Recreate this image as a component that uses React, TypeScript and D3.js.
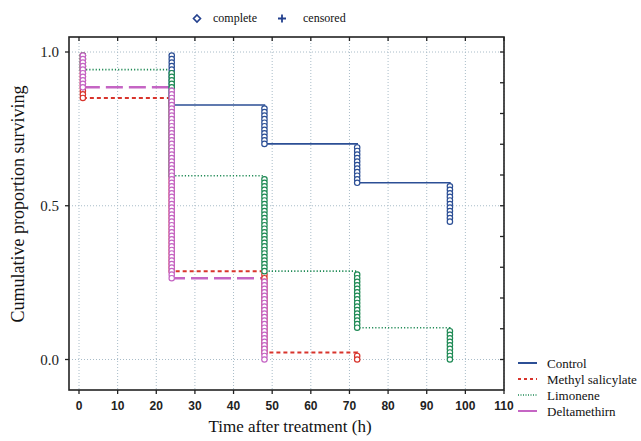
import * as d3 from 'd3';

const WIDTH = 641;
const HEIGHT = 441;
const FRAME = { left: 69, right: 504, top: 37, bottom: 390 };

// event times (h) and sample size per group
export const times = [1, 24, 48, 72, 96];
export const sampleSize = 87;

// number of deaths at each event time
export const controlDeaths = [0, 15, 11, 11, 11];
export const methylDeaths = [13, 49, 23, 2, 0];
export const limoneneDeaths = [5, 30, 27, 16, 9];
export const deltaDeaths = [10, 54, 23, 0, 0];

export const seriesNames = ['Control', 'Methyl salicylate', 'Limonene', 'Deltamethirn'];

export const xTicks = [0, 10, 20, 30, 40, 50, 60, 70, 80, 90, 100, 110];
export const yTicks = [0, 0.5, 1];
export const yMinorTicks = [0, 0.1, 0.2, 0.3, 0.4, 0.5, 0.6, 0.7, 0.8, 0.9, 1];

const styles = [
    { color: '#2c4f95', dash: null, width: 1.6 },
    { color: '#d8342c', dash: '4,3', width: 2 },
    { color: '#1f8a55', dash: '1.2,2', width: 1.6 },
    { color: '#c565c4', dash: '17,6', width: 2.5 },
];

const serif = '"Liberation Serif", "Times New Roman", serif';
const sans = '"Liberation Sans", Arial, sans-serif';

// Kaplan-Meier steps: one circle per death, one step per event time
const buildSeries = (deaths) => {
    let alive = sampleSize;
    const steps = [];
    const circles = [];
    deaths.forEach((d, i) => {
        if (d === 0) return;
        for (let k = 0; k < d; k++) {
            alive -= 1;
            circles.push({ t: times[i], s: alive / sampleSize });
        }
        steps.push({ t: times[i], s: alive / sampleSize });
    });
    return { steps, circles };
};

const App = () => {
    const xScale = d3.scaleLinear().domain([0, 110]).range([79, FRAME.right]);
    const yScale = d3.scaleLinear().domain([0, 1]).range([359.5, 52]);

    const lineBuilder = d3
        .line()
        .x((d) => xScale(d.t))
        .y((d) => yScale(d.s))
        .curve(d3.curveStepAfter);

    const allSeries = [controlDeaths, methylDeaths, limoneneDeaths, deltaDeaths].map(buildSeries);

    return (
        <svg
            width={WIDTH}
            height={HEIGHT}
            style={{ position: 'absolute', left: 0, top: 0, background: '#fff' }}
        >
            {/* grid */}
            {xTicks.map((t) => (
                <line
                    key={'gx' + t}
                    x1={xScale(t)}
                    x2={xScale(t)}
                    y1={FRAME.top}
                    y2={FRAME.bottom}
                    stroke="#a9bcc8"
                    strokeWidth={1}
                    strokeDasharray="1,2"
                />
            ))}
            {yTicks.map((t) => (
                <line
                    key={'gy' + t}
                    x1={FRAME.left}
                    x2={FRAME.right}
                    y1={yScale(t)}
                    y2={yScale(t)}
                    stroke="#a9bcc8"
                    strokeWidth={1}
                    strokeDasharray="1,2"
                />
            ))}

            {/* curves */}
            {allSeries.map((s, i) => (
                <path
                    key={'l' + i}
                    d={lineBuilder(s.steps)}
                    fill="none"
                    stroke={styles[i].color}
                    strokeWidth={styles[i].width}
                    strokeDasharray={styles[i].dash || undefined}
                />
            ))}
            {allSeries.map((s, i) =>
                s.circles.map((c, j) => (
                    <circle
                        key={'c' + i + '-' + j}
                        cx={xScale(c.t)}
                        cy={yScale(c.s)}
                        r={2.7}
                        fill="#fff"
                        stroke={styles[i].color}
                        strokeWidth={1.2}
                    />
                ))
            )}

            {/* frame */}
            <rect
                x={FRAME.left}
                y={FRAME.top}
                width={FRAME.right - FRAME.left}
                height={FRAME.bottom - FRAME.top}
                fill="none"
                stroke="#222"
                strokeWidth={1.6}
            />

            {/* x ticks */}
            {xTicks.map((t) => (
                <g key={'xt' + t}>
                    <line x1={xScale(t)} x2={xScale(t)} y1={FRAME.bottom} y2={FRAME.bottom + 4} stroke="#222" strokeWidth={1.3} />
                    <line x1={xScale(t)} x2={xScale(t)} y1={FRAME.top} y2={FRAME.top + 4} stroke="#222" strokeWidth={1.3} />
                    <text
                        x={xScale(t)}
                        y={410}
                        textAnchor="middle"
                        fontFamily={sans}
                        fontWeight="bold"
                        fontSize={12}
                        fill="#222"
                    >
                        {t}
                    </text>
                </g>
            ))}

            {/* y ticks */}
            {yMinorTicks.map((t) => (
                <line
                    key={'ym' + t}
                    x1={FRAME.right - 4}
                    x2={FRAME.right}
                    y1={yScale(t)}
                    y2={yScale(t)}
                    stroke="#222"
                    strokeWidth={1.3}
                />
            ))}
            {yTicks.map((t) => (
                <g key={'yt' + t}>
                    <line x1={FRAME.left - 4} x2={FRAME.left} y1={yScale(t)} y2={yScale(t)} stroke="#222" strokeWidth={1.3} />
                    <text
                        x={59}
                        y={yScale(t) + 5}
                        textAnchor="end"
                        fontFamily={serif}
                        fontSize={15}
                        fill="#222"
                    >
                        {t.toFixed(1)}
                    </text>
                </g>
            ))}

            {/* axis titles */}
            <text
                x={290}
                y={432}
                textAnchor="middle"
                fontFamily={serif}
                fontSize={17}
                fill="#111"
            >
                Time after treatment (h)
            </text>
            <text
                transform="translate(24,204) rotate(-90)"
                textAnchor="middle"
                fontFamily={serif}
                fontSize={18}
                fill="#111"
            >
                Cumulative proportion surviving
            </text>

            {/* top legend */}
            <path d="M197,15 L200.5,18.5 L197,22 L193.5,18.5 Z" fill="#fff" stroke="#23408e" strokeWidth={1.6} />
            <text x={213} y={22} fontFamily={serif} fontSize={12} fill="#111">
                complete
            </text>
            <path d="M282,14.5 V22.5 M278,18.5 H286" stroke="#23408e" strokeWidth={1.8} />
            <text x={303} y={22} fontFamily={serif} fontSize={12} fill="#111">
                censored
            </text>

            {/* series legend */}
            {seriesNames.map((name, i) => (
                <g key={'lg' + i} transform={`translate(518,${363 + i * 16})`}>
                    <line
                        x1={0}
                        x2={19}
                        y1={0}
                        y2={0}
                        stroke={styles[i].color}
                        strokeWidth={i === 2 ? 1.4 : 2}
                        strokeDasharray={i === 1 ? '3,3' : i === 2 ? '1,1.5' : undefined}
                    />
                    <text x={29} y={5} fontFamily={serif} fontSize={13} fill="#111">
                        {name}
                    </text>
                </g>
            ))}
        </svg>
    );
};

export default App;
